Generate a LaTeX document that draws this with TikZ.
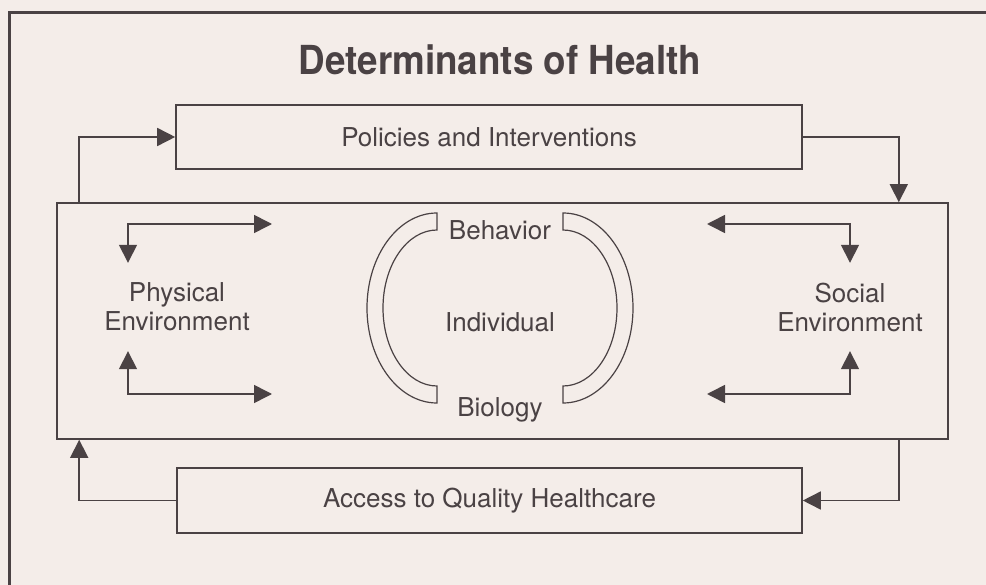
\documentclass[tikz,border=0pt]{standalone}
\usepackage{fontspec}
\setmainfont{TeX Gyre Heros}
\newfontfamily\titlefont[FakeStretch=0.92]{TeX Gyre Heros}
\usetikzlibrary{arrows.meta}

\definecolor{paper}{HTML}{F4EDE9}
\definecolor{ink}{HTML}{4A4244}

\tikzset{
  box/.style={draw=ink, line width=1.6pt, inner sep=0pt},
  label/.style={inner sep=0pt, align=center},
  flow/.style={draw=ink, line width=1.6pt, -{Triangle[length=18pt,width=18pt]}},
  twoway/.style={draw=ink, line width=1.6pt,
    {Triangle[length=18pt,width=18pt]}-{Triangle[length=18pt,width=18pt]}}
}

\begin{document}
\begin{tikzpicture}[x=1pt, y=-1pt, text=ink, font=\fontsize{26}{29}\selectfont]

% fond et cadre
\fill[paper] (0,0) rectangle (986,585);
\useasboundingbox (0,0) rectangle (986,585);
\draw[ink, line width=3pt] (9,585) -- (9,13) -- (986,13);

% titre
\node[label] (title) at (500,60) {\titlefont\fontsize{40}{44}\selectfont\bfseries Determinants of Health};

% boites
\node[box, minimum width=626, minimum height=64] (policy) at (489,137) {Policies and Interventions};
\node[box, minimum width=891, minimum height=236] (env) at (502.5,321) {};
\node[box, minimum width=625, minimum height=65] (access) at (489.5,500.5) {Access to Quality Healthcare};

% boucle exterieure
\draw[flow] ([xshift=23pt]env.north west) |- (policy.west);
\draw[flow] (policy.east) -| ([xshift=-50pt]env.north east);
\draw[flow] ([xshift=-50pt]env.south east) |- (access.east);
\draw[flow] (access.west) -| ([xshift=23pt]env.south west);

% environnements
\node[label, minimum height=88] (phys) at (177,307) {Physical\\Environment};
\node[label, minimum height=88] (soc) at (850,307) {Social\\Environment};

\coordinate (ptop) at (272,224);
\coordinate (pbot) at (272,394);
\coordinate (stop) at (707,224);
\coordinate (sbot) at (707,394);

\draw[twoway] ([xshift=-49pt]phys.north) |- (ptop);
\draw[twoway] ([xshift=-49pt]phys.south) |- (pbot);
\draw[twoway] (soc.north) |- (stop);
\draw[twoway] (soc.south) |- (sbot);

% individu
\draw[ink, line width=1.2pt] (437,213)
  arc[start angle=270, end angle=90, x radius=70, y radius=95] -- (437,386)
  arc[start angle=90, end angle=270, x radius=54, y radius=78] -- cycle;
\draw[ink, line width=1.2pt] (563,213)
  arc[start angle=270, end angle=450, x radius=70, y radius=95] -- (563,386)
  arc[start angle=90, end angle=-90, x radius=54, y radius=78] -- cycle;

\node[label] (behav) at (500,230) {Behavior};
\node[label] (indiv) at (500,322) {Individual};
\node[label] (bio) at (500,410) {Biology};

\end{tikzpicture}
\end{document}
